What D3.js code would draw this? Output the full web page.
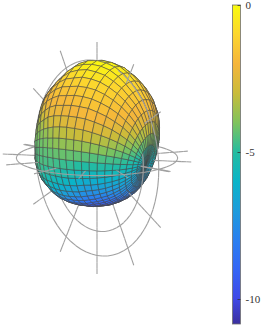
<!DOCTYPE html>
<html>
<head>
<meta charset="utf-8">
<script src="https://cdnjs.cloudflare.com/ajax/libs/d3/7.8.5/d3.min.js"></script>
<style>
  html, body { margin: 0; padding: 0; background: #fff; }
  svg { display: block; }
</style>
</head>
<body>
<div class="chart"></div>
<script>
// levels in dB.
// rows = angle from the ear axis (7.5 deg steps), columns = angle round that axis, top to bottom
var polarStep = 7.5;
var aroundStep = 7.5;
var aroundCount = 48;
var levelRows = [
  [-6.1,-6.1,-6.1,-6.1,-6.1,-6.1,-6.1,-6.1,-6.1,-6.1,-6.1,-6.1,-6.1,-6.1,-6.1,-6.1,-6.1,-6.1,-6.1,-6.1,-6.1,-6.1,-6.1,-6.1,-6.1],
  [-5.4,-5.4,-5.4,-5.5,-5.5,-5.6,-5.6,-5.7,-5.8,-5.8,-5.9,-6,-6.1,-6.2,-6.3,-6.4,-6.4,-6.5,-6.6,-6.6,-6.7,-6.7,-6.7,-6.8,-6.8],
  [-4.4,-4.4,-4.4,-4.5,-4.6,-4.7,-4.8,-5,-5.1,-5.3,-5.5,-5.7,-5.8,-6,-6.2,-6.3,-6.5,-6.6,-6.7,-6.8,-6.9,-7,-7.1,-7.1,-7.1],
  [-3.4,-3.4,-3.5,-3.6,-3.7,-3.9,-4.1,-4.3,-4.6,-4.8,-5.1,-5.4,-5.6,-5.9,-6.1,-6.4,-6.6,-6.8,-7,-7.1,-7.3,-7.4,-7.5,-7.5,-7.5],
  [-2.5,-2.5,-2.6,-2.8,-3,-3.2,-3.5,-3.8,-4.1,-4.5,-4.8,-5.2,-5.5,-5.9,-6.2,-6.5,-6.8,-7,-7.3,-7.5,-7.7,-7.8,-7.9,-8,-8],
  [-1.9,-2,-2,-2.2,-2.3,-2.5,-2.9,-3.3,-3.7,-4.1,-4.6,-5,-5.4,-5.8,-6.2,-6.6,-6.9,-7.3,-7.6,-7.8,-8.1,-8.2,-8.4,-8.4,-8.5],
  [-1.5,-1.6,-1.6,-1.8,-1.9,-2.2,-2.4,-2.9,-3.4,-3.9,-4.4,-4.9,-5.4,-5.9,-6.3,-6.8,-7.2,-7.6,-7.9,-8.2,-8.5,-8.7,-8.8,-8.9,-9],
  [-1.2,-1.3,-1.4,-1.5,-1.6,-1.8,-2.2,-2.5,-3.1,-3.7,-4.3,-4.9,-5.4,-5.9,-6.4,-6.9,-7.4,-7.8,-8.2,-8.6,-8.9,-9.1,-9.3,-9.4,-9.4],
  [-0.9,-1,-1,-1.2,-1.4,-1.6,-1.9,-2.3,-2.9,-3.5,-4.2,-4.8,-5.4,-6,-6.5,-7.1,-7.6,-8.1,-8.5,-8.9,-9.2,-9.4,-9.6,-9.7,-9.8],
  [-0.5,-0.6,-0.8,-1,-1.2,-1.5,-1.8,-2.2,-2.7,-3.4,-4.1,-4.8,-5.4,-6,-6.6,-7.2,-7.7,-8.2,-8.7,-9.1,-9.4,-9.7,-9.9,-10,-10],
  [-0.2,-0.3,-0.5,-0.8,-1.1,-1.4,-1.6,-2,-2.5,-3.3,-4,-4.8,-5.4,-6,-6.7,-7.3,-7.8,-8.3,-8.8,-9.3,-9.6,-9.9,-10.1,-10.2,-10.2],
  [-0.1,-0.2,-0.5,-0.8,-1.2,-1.5,-1.8,-2.2,-2.6,-3.4,-4,-4.6,-5.2,-5.8,-6.4,-7,-7.6,-8.2,-8.7,-9.2,-9.6,-9.9,-10.2,-10.3,-10.3],
  [0,-0.2,-0.4,-0.8,-1.3,-1.6,-1.9,-2.3,-2.7,-3.5,-4,-4.5,-5.1,-5.6,-6.2,-6.9,-7.5,-8.1,-8.7,-9.2,-9.6,-9.9,-10.2,-10.3,-10.3],
  [-0.1,-0.3,-0.6,-1.1,-1.5,-1.8,-2.1,-2.4,-2.9,-3.5,-4,-4.5,-5,-5.5,-6,-6.7,-7.3,-8,-8.5,-9,-9.5,-9.9,-10.1,-10.3,-10.3],
  [-0.4,-0.5,-0.8,-1.1,-1.4,-1.7,-2,-2.4,-3.1,-3.7,-4.1,-4.5,-4.8,-5.4,-5.9,-6.4,-7,-7.7,-8.3,-8.8,-9.3,-9.6,-9.9,-10.1,-10.1],
  [-1,-1,-1.2,-1.4,-1.6,-1.9,-2.2,-2.6,-3.4,-3.9,-4.2,-4.5,-4.7,-5.2,-5.7,-6.2,-6.8,-7.4,-8,-8.5,-9,-9.3,-9.6,-9.8,-9.8],
  [-1.4,-1.5,-1.6,-1.7,-1.9,-2.1,-2.6,-3.1,-3.6,-4,-4.3,-4.5,-4.6,-5,-5.4,-5.9,-6.5,-7.1,-7.6,-8.2,-8.6,-8.9,-9.2,-9.4,-9.4],
  [-1.7,-1.8,-1.9,-2,-2.1,-2.5,-2.9,-3.3,-3.8,-4.1,-4.3,-4.5,-4.6,-4.9,-5.3,-5.7,-6.3,-6.8,-7.3,-7.8,-8.2,-8.5,-8.8,-8.9,-9],
  [-1.9,-2,-2.1,-2.3,-2.6,-2.9,-3.3,-3.6,-3.9,-4.2,-4.4,-4.6,-4.6,-4.9,-5.1,-5.6,-6.1,-6.6,-7,-7.4,-7.7,-8,-8.2,-8.3,-8.4],
  [-2.6,-2.7,-2.7,-2.9,-3.1,-3.4,-3.6,-3.8,-4,-4.1,-4.4,-4.6,-4.6,-4.8,-5.1,-5.4,-5.7,-6.2,-6.6,-6.9,-7.2,-7.4,-7.6,-7.6,-7.7],
  [-3.3,-3.3,-3.4,-3.5,-3.7,-3.8,-4,-4.2,-4.3,-4.4,-4.5,-4.6,-4.6,-4.8,-5,-5.2,-5.5,-5.9,-6.2,-6.4,-6.7,-6.9,-7,-7.1,-7.1],
  [-4,-4,-4.1,-4.1,-4.2,-4.3,-4.4,-4.4,-4.5,-4.5,-4.6,-4.6,-4.6,-4.7,-4.9,-5,-5.2,-5.4,-5.6,-5.8,-6,-6.1,-6.2,-6.2,-6.3]
];

var colorLevels = [0,-1,-2,-3,-4,-5,-6,-7,-8,-9,-10,-10.85];
var colorValues = ["#f9fb0e","#fcd62e","#f5b53b","#c9bc3a","#7fc35c","#25bca0","#0ab4c8","#1e9cdc","#2a7ff0","#3465f5","#3f48e6","#3b2f9e"];
var barTicks = [0,-5,-10];

var gridAngles = d3.range(0,360,30);
var planeRings = [0.63,0.84];
var equatorRings = [0.84];

var svgWidth = 261;
var svgHeight = 325;

var svg = d3.select(".chart")
  .append("svg")
  .attr("width", svgWidth)
  .attr("height", svgHeight);

var color = d3.scaleLinear().domain(colorLevels).range(colorValues);
var radius = d3.scaleLinear().domain([-10,0]).range([0.42,0.84]);

var xScale = d3.scaleLinear().domain([-1,1]).range([1,193]);
var yScale = d3.scaleLinear().domain([-1,1]).range([274,42]);
var tiltScale = d3.scaleLinear().domain([-1,1]).range([-21,21]);

function rad(a) { return a * Math.PI / 180; }

// u right, v up, w towards the viewer
function project(p) {
  return [xScale(p[0]), yScale(p[1]) + tiltScale(p[2])];
}
function depth(p) { return p[2] * 0.975 + p[1] * 0.22; }

var earAz = rad(30);
var axis = [Math.cos(earAz), 0, Math.sin(earAz)];
var side = [-Math.sin(earAz), 0, Math.cos(earAz)];

function surfacePoint(row, col) {
  col = col % aroundCount;
  // table holds the front half, the back half is its mirror
  var level = levelRows[row][col <= 24 ? col : aroundCount - col];
  var t = rad(row * polarStep), a = rad(col * aroundStep);
  var r = radius(level);
  var ct = Math.cos(t), st = Math.sin(t), ca = Math.cos(a), sa = Math.sin(a);
  return {
    level: level,
    p: [
      r * (axis[0] * ct + side[0] * st * sa),
      r * st * ca,
      r * (axis[2] * ct + side[2] * st * sa)
    ]
  };
}

var items = [];

// surface cells
d3.range(levelRows.length - 1).forEach(function(i) {
  d3.range(aroundCount).forEach(function(j) {
    var c = [surfacePoint(i,j), surfacePoint(i,j+1), surfacePoint(i+1,j+1), surfacePoint(i+1,j)];
    items.push({
      kind: "cell",
      pts: c.map(function(d) { return d.p; }),
      level: d3.mean(c, function(d) { return d.level; }),
      z: d3.mean(c, function(d) { return depth(d.p); })
    });
  });
});

// grid lines are cut in short bits so they sort against the cells
function addGridLine(points) {
  d3.pairs(points).forEach(function(s) {
    items.push({ kind: "grid", pts: s, z: (depth(s[0]) + depth(s[1])) / 2 });
  });
}

var planeAz = rad(40);
var planeDir = [Math.cos(planeAz), 0, Math.sin(planeAz)];
var ringSteps = d3.range(0,365,5);
var spokeSteps = d3.range(0,1.001,0.05);

function inPlane(a, r) {
  return [planeDir[0] * r * Math.sin(a), r * Math.cos(a), planeDir[2] * r * Math.sin(a)];
}
function inEquator(a, r) {
  return [r * Math.cos(a), 0, r * Math.sin(a)];
}

planeRings.forEach(function(r) {
  addGridLine(ringSteps.map(function(a) { return inPlane(rad(a), r); }));
});
equatorRings.forEach(function(r) {
  addGridLine(ringSteps.map(function(a) { return inEquator(rad(a), r); }));
});
gridAngles.forEach(function(a) {
  addGridLine(spokeSteps.map(function(r) { return inPlane(rad(a), r); }));
  addGridLine(spokeSteps.map(function(r) { return inEquator(rad(a + 11), r); }));
});

items.sort(function(a, b) { return a.z - b.z; });

var line = d3.line();

svg.append("g").selectAll("path")
  .data(items)
  .enter().append("path")
    .attr("d", function(d) {
      return line(d.pts.map(project)) + (d.kind === "cell" ? "Z" : "");
    })
    .attr("fill", function(d) { return d.kind === "cell" ? color(d.level) : "none"; })
    .attr("stroke", function(d) { return d.kind === "cell" ? "#484848" : "#a0a0a0"; })
    .attr("stroke-width", function(d) { return d.kind === "cell" ? 0.55 : 1.1; })
    .attr("stroke-linejoin", "round");

// colorbar
var barX = 232.5;
var barWidth = 8;
var barScale = d3.scaleLinear().domain([0,-10]).range([5,299]);

var gradient = svg.append("defs").append("linearGradient")
  .attr("id", "barFill")
  .attr("x1", 0).attr("x2", 0).attr("y1", 0).attr("y2", 1);

gradient.selectAll("stop")
  .data(colorLevels)
  .enter().append("stop")
    .attr("offset", function(d) { return (barScale(d) - 5) / 319; })
    .attr("stop-color", function(d) { return color(d); });

svg.append("rect")
  .attr("x", barX)
  .attr("y", 5)
  .attr("width", barWidth)
  .attr("height", 319)
  .attr("fill", "url(#barFill)")
  .attr("stroke", "#707070")
  .attr("stroke-width", 0.8);

var barAxis = d3.axisRight(barScale)
  .tickValues(barTicks)
  .tickSize(-3)
  .tickPadding(5)
  .tickFormat(function(d) { return String(d); });

var barAxisG = svg.append("g")
  .attr("transform", "translate(" + (barX + barWidth) + ",0)")
  .call(barAxis);

barAxisG.select(".domain").remove();
barAxisG.selectAll("line").attr("stroke", "#303030").attr("stroke-width", 0.8);
barAxisG.selectAll("text")
  .attr("fill", "#333")
  .style("font-family", "'Liberation Serif', serif")
  .style("font-size", "11px");
</script>
</body>
</html>
